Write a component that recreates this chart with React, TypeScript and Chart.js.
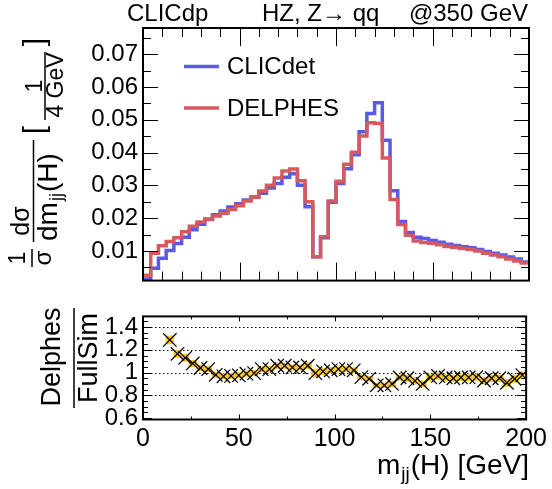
import { useEffect, useRef } from "react";
import { Chart, registerables } from "chart.js";

Chart.register(...registerables);

// ---------------- data ----------------
const BIN_WIDTH = 4; // GeV
const BIN_LOW = Array.from({ length: 50 }, (_, i) => i * BIN_WIDTH);

const CLICDET = [
  0.0015, 0.0048, 0.0078, 0.0102, 0.0123, 0.0142, 0.0165, 0.0182, 0.0196, 0.0211,
  0.0222, 0.0234, 0.0244, 0.0256, 0.0265, 0.0276, 0.0292, 0.0306, 0.0325, 0.0336,
  0.0301, 0.0235, 0.0083, 0.0141, 0.0249, 0.0306, 0.0351, 0.0394, 0.0464, 0.0519,
  0.0552, 0.0438, 0.0284, 0.019, 0.0157, 0.0142, 0.0138, 0.0132, 0.0127, 0.0121,
  0.0117, 0.0113, 0.011, 0.0105, 0.0099, 0.0093, 0.0088, 0.0082, 0.0076, 0.0067,
];

const DELPHES = [
  0.0026, 0.0093, 0.0116, 0.0129, 0.0141, 0.0159, 0.0176, 0.0189, 0.0198, 0.0207,
  0.0215, 0.0227, 0.0238, 0.0253, 0.0264, 0.0283, 0.0301, 0.0323, 0.0344, 0.035,
  0.0314, 0.025, 0.0083, 0.0144, 0.0253, 0.0313, 0.0365, 0.0401, 0.0451, 0.0491,
  0.0489, 0.0384, 0.0257, 0.0181, 0.0148, 0.0131, 0.0126, 0.0124, 0.0119, 0.0114,
  0.0111, 0.0108, 0.0105, 0.01, 0.0093, 0.0088, 0.0083, 0.0076, 0.007, 0.0064,
];

const RATIO: (number | null)[] = [
  null, null, null, 1.287, 1.165, 1.13, 1.08, 1.04, 1.03, 0.98,
  0.967, 0.97, 0.975, 0.99, 0.995, 1.03, 1.03, 1.06, 1.06, 1.045,
  1.045, 1.06, 0.995, 1.01, 1.02, 1.03, 1.03, 1.02, 0.96, 0.945,
  0.888, 0.888, 0.9, 0.957, 0.95, 0.927, 0.9, 0.957, 0.97, 0.957,
  0.95, 0.957, 0.957, 0.96, 0.93, 0.95, 0.95, 0.91, 0.945, 0.977,
];

const RATIO_ERR = [
  0, 0, 0, 0.035, 0.032, 0.03, 0.028, 0.026, 0.025, 0.024,
  0.024, 0.024, 0.024, 0.024, 0.024, 0.024, 0.024, 0.024, 0.024, 0.024,
  0.024, 0.026, 0.035, 0.03, 0.026, 0.024, 0.024, 0.022, 0.022, 0.021,
  0.021, 0.021, 0.024, 0.026, 0.028, 0.028, 0.028, 0.028, 0.028, 0.028,
  0.028, 0.028, 0.028, 0.029, 0.029, 0.03, 0.03, 0.031, 0.031, 0.032,
];

const TOP_Y_TICKS = [0.01, 0.02, 0.03, 0.04, 0.05, 0.06, 0.07];
const TOP_Y_MINOR = [0.005, 0.015, 0.025, 0.035, 0.045, 0.055, 0.065, 0.075];
const RATIO_Y_TICKS = [0.6, 0.8, 1, 1.2, 1.4];
const RATIO_Y_MINOR = [0.65, 0.7, 0.75, 0.85, 0.9, 0.95, 1.05, 1.1, 1.15, 1.25, 1.3, 1.35, 1.45];
const X_TICKS = [0, 50, 100, 150, 200];
const TOP_X_MINOR = [10, 20, 30, 40, 60, 70, 80, 90, 110, 120, 130, 140, 160, 170, 180, 190];
const RATIO_X_MINOR = [25, 75, 125, 175];
const GRID_LINES = [0.8, 1, 1.2, 1.4];
const LEGEND_LABELS = ["CLICdet", "DELPHES"];

const X_MIN = 0;
const X_MAX = 200;
const TOP_Y_MIN = 0.001;
const TOP_Y_MAX = 0.078;
const RATIO_Y_MIN = 0.587;
const RATIO_Y_MAX = 1.494;

// ---------------- styles ----------------
const FONT = '"Liberation Sans", Arial, Helvetica, sans-serif';
const BLUE = "#5a5ae6";
const RED = "#d6595e";
const YELLOW = "#fcc52a";
const W = 552;
const H = 489;
const TOP_H = 300;
const BOT_TOP = 297;
const BOT_H = H - BOT_TOP;
const AREA_LEFT = 143;
const AREA_RIGHT = 529;

function histPoints(vals: number[]) {
  const pts = BIN_LOW.map((x, i) => ({ x, y: vals[i] }));
  pts.push({ x: BIN_LOW[BIN_LOW.length - 1] + BIN_WIDTH, y: vals[vals.length - 1] });
  return pts;
}

function vText(ctx: CanvasRenderingContext2D, text: string, x: number, y: number, size: number, align: CanvasTextAlign = "center", baseline: CanvasTextBaseline = "middle") {
  ctx.save();
  ctx.translate(x, y);
  ctx.rotate(-Math.PI / 2);
  ctx.font = `${size}px ${FONT}`;
  ctx.textAlign = align;
  ctx.textBaseline = baseline;
  ctx.fillStyle = "#000";
  ctx.fillText(text, 0, 0);
  ctx.restore();
}

function line(ctx: CanvasRenderingContext2D, x1: number, y1: number, x2: number, y2: number) {
  ctx.beginPath();
  ctx.moveTo(x1, y1);
  ctx.lineTo(x2, y2);
  ctx.stroke();
}

function drawFrameTicks(chart: any, xMajor: number[], xMinor: number[], yMajor: number[], yMinor: number[], xl: [number, number], yl: [number, number]) {
  const { ctx, chartArea: a, scales } = chart;
  ctx.save();
  ctx.strokeStyle = "#000";
  ctx.lineWidth = 1;
  const xs = scales.x;
  const ys = scales.y;
  const drawX = (vals: number[], len: number) => {
    for (const v of vals) {
      const px = Math.round(xs.getPixelForValue(v)) + 0.5;
      line(ctx, px, a.bottom, px, a.bottom - len);
      line(ctx, px, a.top, px, a.top + len);
    }
  };
  const drawY = (vals: number[], len: number) => {
    for (const v of vals) {
      const py = Math.round(ys.getPixelForValue(v)) + 0.5;
      line(ctx, a.left, py, a.left + len, py);
      line(ctx, a.right, py, a.right - len, py);
    }
  };
  drawX(xMajor, xl[0]);
  drawX(xMinor, xl[1]);
  drawY(yMajor, yl[0]);
  drawY(yMinor, yl[1]);
  ctx.lineWidth = 2;
  ctx.strokeRect(a.left, a.top, a.right - a.left, a.bottom - a.top);
  ctx.restore();
}

const topDecor = {
  id: "topDecor",
  afterDraw(chart: any) {
    const ctx: CanvasRenderingContext2D = chart.ctx;
    drawFrameTicks(chart, X_TICKS, TOP_X_MINOR, TOP_Y_TICKS, TOP_Y_MINOR, [18, 9], [15, 8]);
    ctx.save();
    ctx.fillStyle = "#000";
    ctx.textBaseline = "alphabetic";
    ctx.font = `24px ${FONT}`;
    ctx.textAlign = "left";
    ctx.fillText("CLICdp", 127, 21);
    ctx.fillText("HZ, Z\u2192 qq", 262, 21);
    ctx.textAlign = "right";
    ctx.fillText("@350 GeV", 528, 21);

    // legend
    const colors = [BLUE, RED];
    const ys = [66.5, 108];
    ctx.lineWidth = 3.5;
    LEGEND_LABELS.forEach((lab, i) => {
      ctx.strokeStyle = colors[i];
      line(ctx, 184, ys[i], 219, ys[i]);
      ctx.fillStyle = "#000";
      ctx.textAlign = "left";
      ctx.textBaseline = "middle";
      ctx.font = `24px ${FONT}`;
      ctx.fillText(lab, 227, ys[i] + 1);
    });

    // y title: 1/σ dσ/dm_jj(H) [1/4 GeV]
    ctx.strokeStyle = "#000";
    ctx.lineWidth = 1.5;
    vText(ctx, "1", 19, 258, 23);
    line(ctx, 32, 249, 32, 267);
    vText(ctx, "\u03c3", 44, 258, 24);
    vText(ctx, "d\u03c3", 22, 221, 25);
    line(ctx, 33.5, 140, 33.5, 242);
    // denominator run
    ctx.save();
    ctx.translate(57, 241);
    ctx.rotate(-Math.PI / 2);
    ctx.fillStyle = "#000";
    ctx.textAlign = "left";
    ctx.textBaseline = "alphabetic";
    ctx.font = `28px ${FONT}`;
    ctx.fillText("dm", 0, 0);
    let off = ctx.measureText("dm").width;
    ctx.font = `18px ${FONT}`;
    ctx.fillText("jj", off + 1, 5);
    off += ctx.measureText("jj").width + 2;
    ctx.font = `28px ${FONT}`;
    ctx.fillText("(H)", off, 0);
    ctx.restore();
    vText(ctx, "[", 36, 130, 30);
    vText(ctx, "]", 36, 42, 30);
    vText(ctx, "1", 36, 86, 23);
    line(ctx, 45, 52, 45, 120);
    vText(ctx, "4 GeV", 57, 85, 23);
    ctx.restore();
  },
};

const botDecor = {
  id: "botDecor",
  beforeDatasetsDraw(chart: any) {
    const { ctx, chartArea: a, scales } = chart;
    ctx.save();
    ctx.strokeStyle = "#000";
    ctx.lineWidth = 1;
    ctx.setLineDash([1.5, 2.5]);
    for (const g of GRID_LINES) {
      const py = Math.round(scales.y.getPixelForValue(g)) + 0.5;
      line(ctx, a.left, py, a.right, py);
    }
    ctx.restore();
  },
  afterDraw(chart: any) {
    const ctx: CanvasRenderingContext2D = chart.ctx;
    drawFrameTicks(chart, X_TICKS, RATIO_X_MINOR, RATIO_Y_TICKS, RATIO_Y_MINOR, [5, 3], [9, 5]);
    ctx.save();
    ctx.strokeStyle = "#000";
    ctx.lineWidth = 1.5;
    vText(ctx, "Delphes", 53, 357 - BOT_TOP, 27);
    line(ctx, 74, 308 - BOT_TOP, 74, 408 - BOT_TOP);
    vText(ctx, "FullSim", 90, 358 - BOT_TOP, 27);
    // x title m_jj(H) [GeV]
    ctx.fillStyle = "#000";
    ctx.textBaseline = "alphabetic";
    ctx.textAlign = "right";
    ctx.font = `28px ${FONT}`;
    const tail = "(H) [GeV]";
    const tailW = ctx.measureText(tail).width;
    ctx.fillText(tail, AREA_RIGHT, 474 - BOT_TOP);
    ctx.font = `19px ${FONT}`;
    const jjW = ctx.measureText("jj").width;
    ctx.fillText("jj", AREA_RIGHT - tailW - 1, 480 - BOT_TOP);
    ctx.font = `28px ${FONT}`;
    ctx.fillText("m", AREA_RIGHT - tailW - jjW - 2, 474 - BOT_TOP);
    ctx.restore();
  },
};

export default function App() {
  const topRef = useRef<HTMLCanvasElement | null>(null);
  const botRef = useRef<HTMLCanvasElement | null>(null);

  useEffect(() => {
    const tickFont = { family: FONT, size: 24 };
    const top = new Chart(topRef.current!, {
      type: "line",
      data: {
        datasets: [
          {
            label: LEGEND_LABELS[1],
            data: histPoints(DELPHES),
            borderColor: RED,
            borderWidth: 3.5,
            stepped: "before",
            pointRadius: 0,
            fill: false,
          },
          {
            label: LEGEND_LABELS[0],
            data: histPoints(CLICDET),
            borderColor: BLUE,
            borderWidth: 3.5,
            stepped: "before",
            pointRadius: 0,
            fill: false,
          },
        ],
      },
      options: {
        responsive: false,
        animation: false,
        devicePixelRatio: 1,
        layout: { padding: { top: 28, right: W - AREA_RIGHT, bottom: TOP_H - 298.5, left: 0 } },
        plugins: { legend: { display: false }, tooltip: { enabled: false } },
        scales: {
          x: { type: "linear", min: X_MIN, max: X_MAX, display: false, offset: false },
          y: {
            type: "linear",
            min: TOP_Y_MIN,
            max: TOP_Y_MAX,
            grid: { display: false, drawTicks: false },
            border: { display: false },
            ticks: { color: "#000", font: tickFont, padding: 5, autoSkip: false, callback: (v: any) => String(v) },
            afterBuildTicks: (s: any) => {
              s.ticks = TOP_Y_TICKS.map((v) => ({ value: v }));
            },
            afterFit: (s: any) => {
              s.width = AREA_LEFT;
            },
          },
        },
      },
      plugins: [topDecor],
    });

    const bot = new Chart(botRef.current!, {
      type: "bar",
      data: {
        datasets: [
          {
            type: "scatter",
            label: "ratio",
            data: BIN_LOW.map((x, i) => ({ x: x + BIN_WIDTH / 2, y: RATIO[i] })),
            pointStyle: "crossRot",
            pointRadius: 9.5,
            borderColor: "#000",
            borderWidth: 1.2,
            backgroundColor: "#000",
          } as any,
          {
            type: "bar",
            label: "err",
            data: BIN_LOW.map((x, i) =>
              RATIO[i] === null ? { x: x + BIN_WIDTH / 2, y: null } : { x: x + BIN_WIDTH / 2, y: [(RATIO[i] as number) - RATIO_ERR[i], (RATIO[i] as number) + RATIO_ERR[i]] }
            ),
            backgroundColor: YELLOW,
            borderWidth: 0,
            barPercentage: 1,
            categoryPercentage: 1,
            grouped: false,
          } as any,
        ],
      },
      options: {
        responsive: false,
        animation: false,
        devicePixelRatio: 1,
        layout: { padding: { top: 1.5, right: W - AREA_RIGHT, bottom: 0, left: 0 } },
        plugins: { legend: { display: false }, tooltip: { enabled: false } },
        scales: {
          x: {
            type: "linear",
            min: X_MIN,
            max: X_MAX,
            offset: false,
            grid: { display: false, drawTicks: false, offset: false },
            border: { display: false },
            ticks: { color: "#000", font: { family: FONT, size: 25 }, padding: 5, maxRotation: 0, autoSkip: false },
            afterBuildTicks: (s: any) => {
              s.ticks = X_TICKS.map((v) => ({ value: v }));
            },
            afterFit: (s: any) => {
              s.height = BOT_H - 1.5 - (419.5 - 298.5);
            },
          },
          y: {
            type: "linear",
            min: RATIO_Y_MIN,
            max: RATIO_Y_MAX,
            grid: { display: false, drawTicks: false },
            border: { display: false },
            ticks: { color: "#000", font: tickFont, padding: 5, autoSkip: false, callback: (v: any) => String(v) },
            afterBuildTicks: (s: any) => {
              s.ticks = RATIO_Y_TICKS.map((v) => ({ value: v }));
            },
            afterFit: (s: any) => {
              s.width = AREA_LEFT;
            },
          },
        },
      },
      plugins: [botDecor],
    });

    return () => {
      top.destroy();
      bot.destroy();
    };
  }, []);

  return (
    <div style={{ position: "absolute", left: 0, top: 0, width: W, height: H, background: "#fff" }}>
      <canvas ref={topRef} width={W} height={TOP_H} style={{ position: "absolute", left: 0, top: 0 }} />
      <canvas ref={botRef} width={W} height={BOT_H} style={{ position: "absolute", left: 0, top: BOT_TOP }} />
    </div>
  );
}
